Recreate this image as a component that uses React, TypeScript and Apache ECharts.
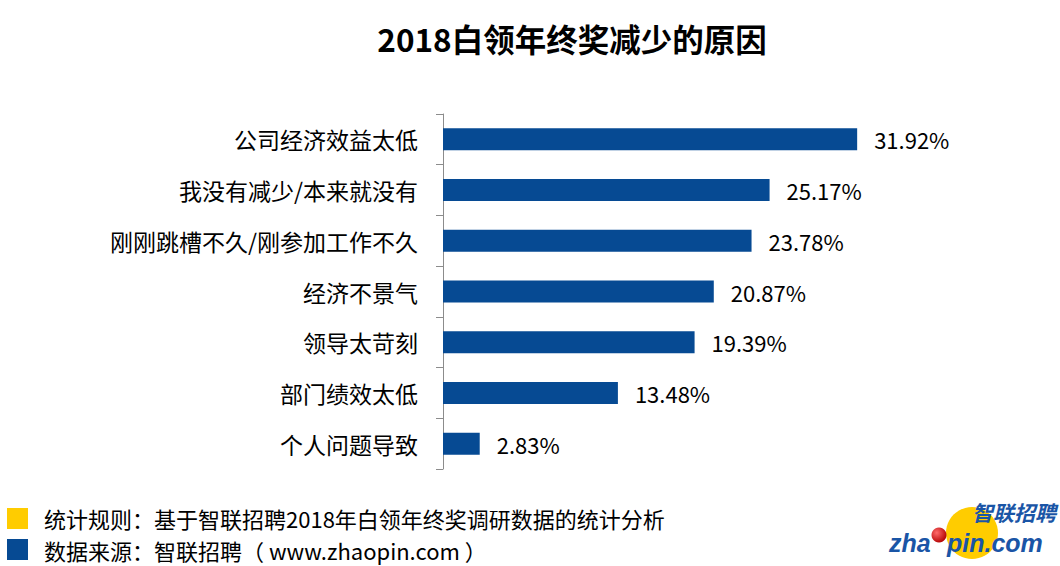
import React, { useEffect, useRef } from "react";
import * as echarts from "echarts";

const titleText = "2018白领年终奖减少的原因";
const categories = [
  "公司经济效益太低",
  "我没有减少/本来就没有",
  "刚刚跳槽不久/刚参加工作不久",
  "经济不景气",
  "领导太苛刻",
  "部门绩效太低",
  "个人问题导致",
];
const values = [31.92, 25.17, 23.78, 20.87, 19.39, 13.48, 2.83];
const footnotes = [
  "统计规则：基于智联招聘2018年白领年终奖调研数据的统计分析",
  "数据来源：智联招聘（ www.zhaopin.com ）",
];

const FONT = "'Noto Sans CJK SC', 'Noto Sans', sans-serif";
const BAR = "#064A93";
const YELLOW = "#FFCC00";
const LOGO_BLUE = "#1A55A6";

export default function App() {
  const ref = useRef<HTMLDivElement>(null);
  useEffect(() => {
    if (!ref.current) return;
    const chart = echarts.init(ref.current, null, { renderer: "svg" });
    chart.setOption({
      animation: false,
      backgroundColor: "#ffffff",
      textStyle: { fontFamily: FONT },
      grid: { left: 443, top: 114, height: 355, width: 519, containLabel: false },
      xAxis: {
        type: "value",
        min: 0,
        max: 40,
        show: false,
      },
      yAxis: {
        type: "category",
        data: categories,
        inverse: true,
        axisLine: { show: true, lineStyle: { color: "#8c8c8c", width: 1 } },
        axisTick: { show: true, length: 7, lineStyle: { color: "#8c8c8c" } },
        axisLabel: { margin: 25, fontSize: 23, color: "#000", fontFamily: FONT },
        splitLine: { show: false },
      },
      series: [
        {
          type: "bar",
          data: values,
          barWidth: 22,
          itemStyle: { color: BAR },
          label: {
            show: true,
            position: "right",
            distance: 17,
            fontSize: 22,
            color: "#000",
            fontFamily: FONT,
            formatter: (p: any) => Number(p.value).toFixed(2) + "%",
          },
        },
      ],
      graphic: [
        {
          type: "text",
          x: 572,
          y: 38,
          style: {
            text: titleText,
            fontSize: 31.5,
            fontWeight: "bold",
            fill: "#000",
            fontFamily: FONT,
            textAlign: "center",
            textVerticalAlign: "middle",
          },
        },
        { type: "rect", shape: { x: 7, y: 508, width: 21, height: 21 }, style: { fill: YELLOW } },
        { type: "rect", shape: { x: 7, y: 539, width: 21, height: 21 }, style: { fill: BAR } },
        {
          type: "text",
          x: 44,
          y: 518,
          style: {
            text: footnotes[0],
            fontSize: 22,
            lineHeight: 24,
            fill: "#000",
            fontFamily: FONT,
            textAlign: "left",
            textVerticalAlign: "middle",
          },
        },
        {
          type: "text",
          x: 44,
          y: 550,
          style: {
            text: footnotes[1],
            fontSize: 22,
            lineHeight: 24,
            fill: "#000",
            fontFamily: FONT,
            textAlign: "left",
            textVerticalAlign: "middle",
          },
        },
        // logo
        { type: "circle", shape: { cx: 972, cy: 533, r: 26 }, style: { fill: YELLOW } },
        {
          type: "text",
          x: 1056,
          y: 512,
          style: {
            text: "智联招聘",
            fontSize: 21,
            lineHeight: 21,
            fontWeight: "bold",
            fontStyle: "italic",
            fill: LOGO_BLUE,
            fontFamily: FONT,
            textAlign: "right",
            textVerticalAlign: "middle",
          },
        },
        {
          type: "text",
          x: 889,
          y: 543,
          style: {
            text: "zha",
            fontSize: 25,
            lineHeight: 25,
            fontWeight: "bold",
            fontStyle: "italic",
            fill: LOGO_BLUE,
            fontFamily: "'Liberation Sans', Arial, sans-serif",
            textAlign: "left",
            textVerticalAlign: "middle",
          },
        },
        {
          type: "circle",
          shape: { cx: 939, cy: 535, r: 7.5 },
          style: {
            fill: new echarts.graphic.RadialGradient(0.35, 0.35, 0.7, [
              { offset: 0, color: "#ff6b6b" },
              { offset: 1, color: "#b30000" },
            ]),
          },
        },
        {
          type: "text",
          x: 947,
          y: 543,
          style: {
            text: "pin.com",
            fontSize: 25,
            lineHeight: 25,
            fontWeight: "bold",
            fontStyle: "italic",
            fill: LOGO_BLUE,
            fontFamily: "'Liberation Sans', Arial, sans-serif",
            textAlign: "left",
            textVerticalAlign: "middle",
          },
        },
      ],
    });
    return () => chart.dispose();
  }, []);
  return (
    <div
      ref={ref}
      style={{ position: "fixed", left: 0, top: 0, width: 1060, height: 566, background: "#fff" }}
    />
  );
}
